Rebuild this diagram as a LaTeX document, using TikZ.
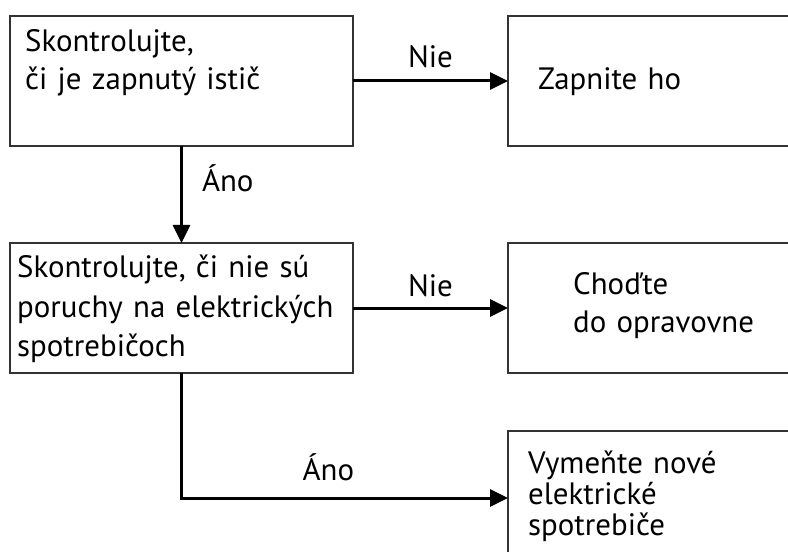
\documentclass[tikz,border=0pt]{standalone}
\usepackage{fontspec}
\setmainfont{PT Sans}
\usetikzlibrary{positioning, arrows.meta}

\begin{document}
\begin{tikzpicture}[
    x=1bp, y=-1bp,
    box/.style={draw=black!80, line width=2.6bp, minimum height=130bp, anchor=north west, inner sep=0pt, outer sep=0pt},
    txt/.style={font=\fontsize{31}{#1}\selectfont, text width=450bp, align=left, inner sep=0pt, anchor=base west},
    lbl/.style={font=\fontsize{31}{37}\selectfont, inner sep=0pt},
    flow/.style={draw, line width=3bp, -{Triangle[length=18bp, width=17bp]}}
]
\useasboundingbox (0,0) rectangle (788,552);

\node[box, minimum width=343bp] (check1) at (10,16) {};
\node[box, minimum width=292bp] (turnon) at (508,16) {};
\node[box, minimum width=343bp] (check2) at (10,243) {};
\node[box, minimum width=292bp] (repair) at (508,243) {};
\node[box, minimum width=292bp, minimum height=134bp] (replace) at (508,431) {};

\node[txt=38bp] (check1txt) at (25,52) {Skontrolujte,\\či je zapnutý istič};
\node[txt=38bp] (turnontxt) at (538,90) {Zapnite ho};
\node[txt=39bp] (check2txt) at (17,278) {Skontrolujte, či nie sú\\poruchy na elektrických\\spotrebičoch};
\node[txt=37bp] (repairtxt) at (573,295) {Choďte\\do opravovne};
\node[txt=31bp] (replacetxt) at (528,473) {Vymeňte nové\\elektrické\\spotrebiče};

\draw[flow] (check1.east) -- node[lbl, above=12bp] {Nie} (turnon.west);
\draw[flow] (check1.south) -- node[lbl, pos=.47, anchor=base west, xshift=19bp] {Áno} (check2.north);
\draw[flow] (check2.east) -- node[lbl, above=10bp] {Nie} (repair.west);
\draw[flow] (check2.south) |- node[lbl, pos=.725, anchor=base, yshift=18bp] {Áno} (replace.west);
\end{tikzpicture}
\end{document}
